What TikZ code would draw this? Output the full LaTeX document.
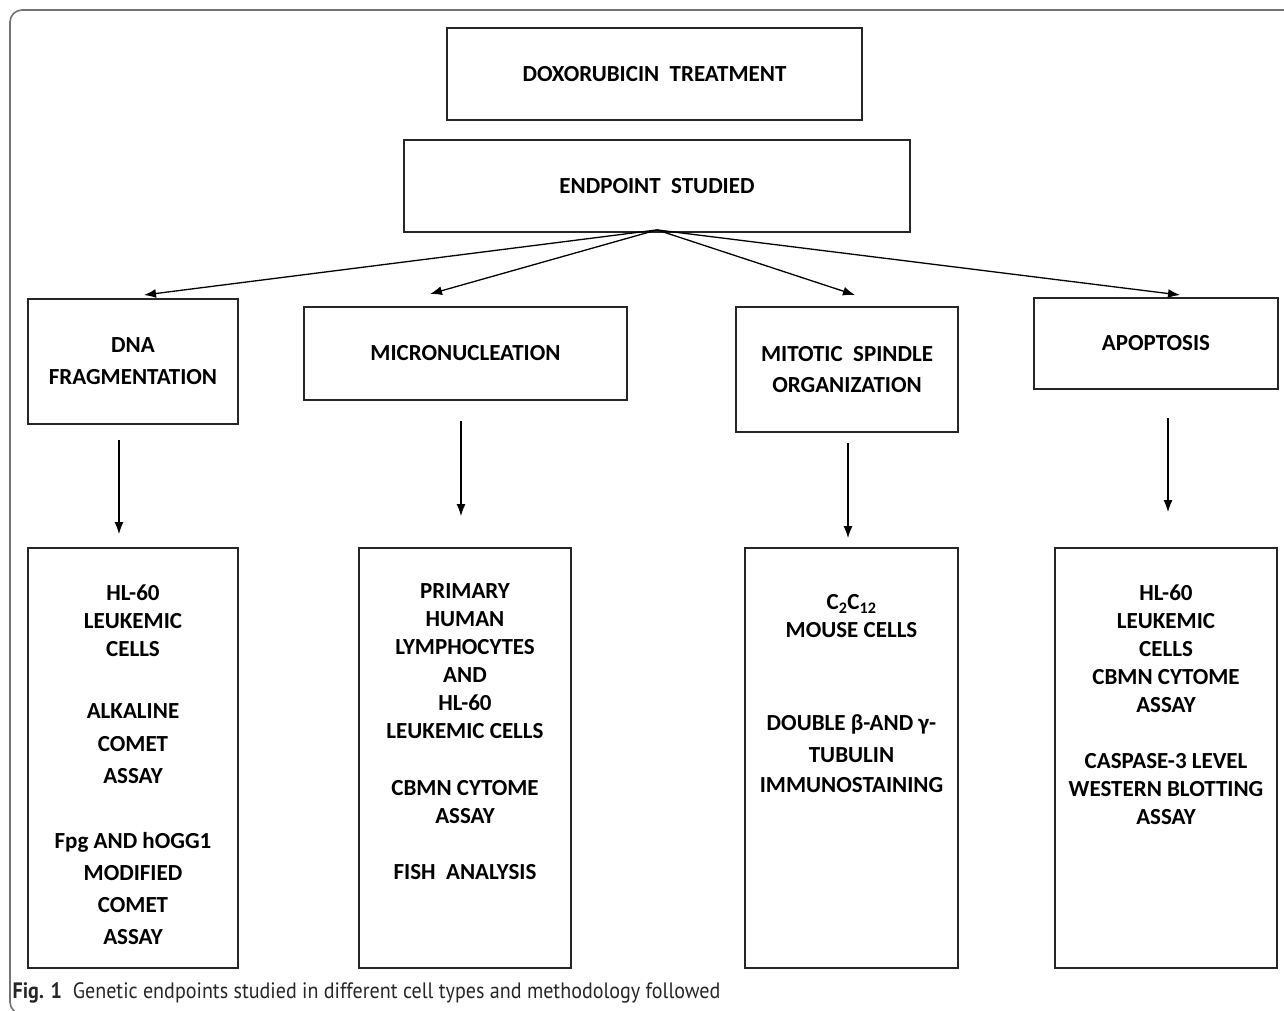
\documentclass[tikz,border=0pt]{standalone}
\usepackage{fontspec}
\setmainfont{Carlito}
\newfontfamily\capfont[FakeStretch=0.9]{PT Sans}
\usetikzlibrary{positioning, arrows.meta}

\begin{document}
\begin{tikzpicture}[->,>={Latex[length=12pt,width=9pt]},x=1pt,y=-1pt,
	line width=1.3pt]
	\tikzstyle{box}=[draw=black!85,line width=1.8pt,inner sep=0pt,align=center,
		font=\fontsize{23}{28}\selectfont\bfseries]
	\tikzstyle{res}=[draw=black!85,line width=1.8pt,inner sep=0pt,minimum height=420pt]
	\tikzstyle{txt}=[inner sep=0pt,align=center,font=\fontsize{23}{28}\selectfont\bfseries]
	\useasboundingbox (0,0) rectangle (1284,1010);
	\clip (0,0) rectangle (1284,1010);
	\draw[-,black!55,line width=1.6pt,rounded corners=12pt] (10,10) rectangle (1310,1014);
	% top of the chart
	\node[box,minimum width=415pt,minimum height=92pt] (treat) at (654.5,74) {DOXORUBICIN\ \ TREATMENT};
	\node[box,minimum width=506pt,minimum height=92pt] (endpoint) at (657,186) {ENDPOINT\ \ STUDIED};
	% endpoints
	\node[box,minimum width=210pt,minimum height=125pt] (dna) at (133,361.5) {DNA\\[4pt]FRAGMENTATION};
	\node[box,minimum width=323pt,minimum height=93pt] (micro) at (465.5,353.5) {MICRONUCLEATION};
	\node[box,minimum width=222pt,minimum height=125pt] (spindle) at (847,369.5) {MITOTIC\ \ SPINDLE\\[3pt]ORGANIZATION};
	\node[box,minimum width=244pt,minimum height=91pt] (apop) at (1156,343.5) {APOPTOSIS};
	% cells and assays
	\node[res,minimum width=210pt] (dnares) at (133,758) {};
	\node[res,minimum width=212pt] (microres) at (465,758) {};
	\node[res,minimum width=213pt] (spindleres) at (851.5,758) {};
	\node[res,minimum width=222pt] (apopres) at (1166,758) {};
	\node[txt,below=37pt of dnares.north] (dnatxt) {HL-60\\LEUKEMIC\\CELLS\\[34pt]ALKALINE\\[5pt]COMET\\[4pt]ASSAY\\[37pt]Fpg AND hOGG1\\[4pt]MODIFIED\\[4pt]COMET\\[4pt]ASSAY};
	\node[txt,below=36pt of microres.north] (microtxt) {PRIMARY\\HUMAN\\LYMPHOCYTES\\AND\\HL-60\\LEUKEMIC CELLS\\[29pt]CBMN CYTOME\\ASSAY\\[28pt]FISH\ \ ANALYSIS};
	\node[txt,below=47pt of spindleres.north] (spindletxt) {C\textsubscript{2}C\textsubscript{12}\\MOUSE CELLS\\[65pt]DOUBLE β-AND γ-\\[4pt]TUBULIN\\[2pt]IMMUNOSTAINING};
	\node[txt,below=37pt of apopres.north] (apoptxt) {HL-60\\LEUKEMIC\\CELLS\\CBMN CYTOME\\ASSAY\\[28pt]CASPASE-3 LEVEL\\WESTERN BLOTTING\\ASSAY};
	% arrows
	\coordinate (tipa) at (144,295);
	\coordinate (tipb) at (430,294);
	\coordinate (tipc) at (855,295);
	\coordinate (tipd) at (1180,295);
	\path ([yshift=3pt]endpoint.south) edge (tipa) edge (tipb) edge (tipc) edge (tipd);
	\path
	([xshift=-14pt,yshift=-15pt]dna.south) edge ([xshift=-14pt,yshift=13pt]dnares.north)
	([xshift=-4.5pt,yshift=-20pt]micro.south) edge ([xshift=-4pt,yshift=31pt]microres.north)
	([xshift=1pt,yshift=-10pt]spindle.south) edge ([xshift=-3.5pt,yshift=9pt]spindleres.north)
	([xshift=12pt,yshift=-28pt]apop.south) edge ([xshift=2pt,yshift=35pt]apopres.north);
	\node[anchor=west,inner sep=0pt,text=black!85,font=\capfont\fontsize{22.3}{26}\selectfont] (caption) at (12,993)
		{\textbf{Fig. 1}\ \ Genetic endpoints studied in different cell types and methodology followed};
\end{tikzpicture}
\end{document}
